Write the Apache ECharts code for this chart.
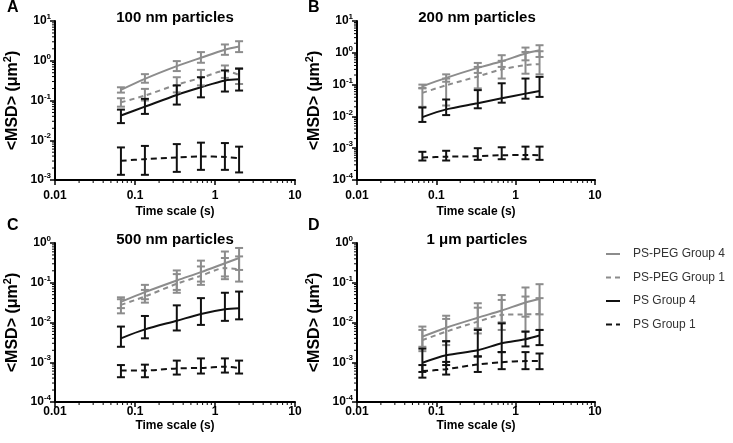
<!DOCTYPE html>
<html><head><meta charset="utf-8">
<script src="https://cdn.jsdelivr.net/npm/echarts@6/dist/echarts.min.js"></script>
<style>html,body{margin:0;padding:0;background:#fff}#c{width:733px;height:443px}</style>
</head><body><div id="c"></div>
<script>
// time points (s)
const times = [0.0667, 0.133, 0.333, 0.667, 1.33, 2.0];
const xTickLabels = ['0.01', '0.1', '1', '10'];
const seriesNames = ['PS-PEG Group 4', 'PS-PEG Group 1', 'PS Group 4', 'PS Group 1'];
const panelTitles = ['100 nm particles', '200 nm particles', '500 nm particles', '1 \u03bcm particles'];
const panelLetters = ['A', 'B', 'C', 'D'];

// Panel A: 100 nm
const a_peg4 = [0.185, 0.35, 0.73, 1.19, 1.9, 2.28];
const a_peg4_lo = [0.158, 0.28, 0.55, 0.89, 1.41, 1.65];
const a_peg4_hi = [0.215, 0.46, 0.98, 1.65, 2.57, 3.1];
const a_peg1 = [0.09, 0.133, 0.25, 0.37, 0.55, 0.44];
const a_peg1_lo = [0.07, 0.1, 0.16, 0.24, 0.37, 0.26];
const a_peg1_hi = [0.114, 0.196, 0.385, 0.59, 0.76, 0.65];
const a_ps4 = [0.042, 0.07, 0.138, 0.215, 0.32, 0.34];
const a_ps4_lo = [0.027, 0.046, 0.079, 0.12, 0.168, 0.178];
const a_ps4_hi = [0.059, 0.11, 0.24, 0.385, 0.57, 0.63];
const a_ps1 = [0.00303, 0.00335, 0.0037, 0.0039, 0.0038, 0.0035];
const a_ps1_lo = [0.00135, 0.00135, 0.0016, 0.0018, 0.0018, 0.00155];
const a_ps1_hi = [0.0066, 0.0072, 0.008, 0.0087, 0.0085, 0.0069];

// Panel B: 200 nm
const b_peg4 = [0.089, 0.163, 0.335, 0.54, 0.95, 1.2];
const b_peg4_lo = [0.079, 0.123, 0.233, 0.36, 0.58, 0.74];
const b_peg4_hi = [0.1, 0.21, 0.48, 0.84, 1.46, 1.73];
const b_peg1 = [0.055, 0.095, 0.18, 0.3, 0.41, 0.44];
const b_peg1_lo = [0.02, 0.022, 0.076, 0.155, 0.22, 0.21];
const b_peg1_hi = [0.076, 0.155, 0.36, 0.56, 1.06, 1.12];
const b_ps4 = [0.0095, 0.0166, 0.026, 0.037, 0.052, 0.063];
const b_ps4_lo = [0.0067, 0.011, 0.018, 0.027, 0.036, 0.041];
const b_ps4_hi = [0.019, 0.034, 0.067, 0.11, 0.155, 0.175];
const b_ps1 = [0.00051, 0.00054, 0.00056, 0.0006, 0.00061, 0.0006];
const b_ps1_lo = [0.00041, 0.00041, 0.00043, 0.00045, 0.00045, 0.00043];
const b_ps1_hi = [0.00077, 0.00083, 0.001, 0.00107, 0.00112, 0.00112];

// Panel C: 500 nm
const c_peg4 = [0.033, 0.058, 0.114, 0.185, 0.31, 0.42];
const c_peg4_lo = [0.023, 0.0385, 0.066, 0.107, 0.144, 0.21];
const c_peg4_hi = [0.043, 0.0885, 0.204, 0.36, 0.61, 0.75];
const c_peg1 = [0.0277, 0.045, 0.094, 0.149, 0.234, 0.22];
const c_peg1_lo = [0.017, 0.0316, 0.056, 0.0885, 0.123, 0.107];
const c_peg1_hi = [0.0385, 0.066, 0.165, 0.257, 0.42, 0.46];
const c_ps4 = [0.004, 0.0067, 0.0111, 0.0164, 0.0215, 0.0229];
const c_ps4_lo = [0.00245, 0.004, 0.0063, 0.0087, 0.011, 0.012];
const c_ps4_hi = [0.0079, 0.0146, 0.027, 0.041, 0.056, 0.06];
const c_ps1 = [0.00062, 0.00062, 0.0007, 0.00072, 0.00077, 0.00072];
const c_ps1_lo = [0.00042, 0.00042, 0.00049, 0.00052, 0.00055, 0.00052];
const c_ps1_hi = [0.00085, 0.00087, 0.0011, 0.00125, 0.00125, 0.0011];

// Panel D: 1 um
const d_peg4 = [0.0044, 0.0074, 0.0132, 0.02, 0.032, 0.039];
const d_peg4_lo = [0.00245, 0.0033, 0.0071, 0.0101, 0.014, 0.016];
const d_peg4_hi = [0.0079, 0.0148, 0.0305, 0.049, 0.076, 0.092];
const d_peg1 = [0.0036, 0.0059, 0.0105, 0.0155, 0.016, 0.0164];
const d_peg1_lo = [0.0019, 0.0027, 0.0053, 0.0065, 0.0059, 0.0065];
const d_peg1_hi = [0.0065, 0.0123, 0.0236, 0.037, 0.045, 0.041];
const d_ps4 = [0.00097, 0.0015, 0.002, 0.003, 0.0038, 0.0047];
const d_ps4_lo = [0.00057, 0.00085, 0.0014, 0.0018, 0.0025, 0.0027];
const d_ps4_hi = [0.0022, 0.0034, 0.0065, 0.0095, 0.0059, 0.0065];
const d_ps1 = [0.0006, 0.00067, 0.00088, 0.001, 0.00107, 0.00107];
const d_ps1_lo = [0.00041, 0.00049, 0.00057, 0.00067, 0.00067, 0.00067];
const d_ps1_hi = [0.00085, 0.00102, 0.0014, 0.0018, 0.0018, 0.00166];

// y-axis ranges
const yMins = [1e-3, 1e-4, 1e-4, 1e-4];
const yMaxs = [10, 10, 1, 1];

const FONT = 'Liberation Sans, Arial, Helvetica, sans-serif';
const GRAY = '#8c8c8c';
const BLACK = '#111111';

const grids = [
  {left: 55, top: 21, width: 240, height: 159},
  {left: 357, top: 21, width: 238, height: 159},
  {left: 55, top: 243, width: 240, height: 159},
  {left: 357, top: 243, width: 238, height: 159}
];
const labelMargins = [10, 10, 4, 4];
const nameGaps = [26, 26, 18, 18];

const panels = [
  [[a_peg4, a_peg4_lo, a_peg4_hi], [a_peg1, a_peg1_lo, a_peg1_hi], [a_ps4, a_ps4_lo, a_ps4_hi], [a_ps1, a_ps1_lo, a_ps1_hi]],
  [[b_peg4, b_peg4_lo, b_peg4_hi], [b_peg1, b_peg1_lo, b_peg1_hi], [b_ps4, b_ps4_lo, b_ps4_hi], [b_ps1, b_ps1_lo, b_ps1_hi]],
  [[c_peg4, c_peg4_lo, c_peg4_hi], [c_peg1, c_peg1_lo, c_peg1_hi], [c_ps4, c_ps4_lo, c_ps4_hi], [c_ps1, c_ps1_lo, c_ps1_hi]],
  [[d_peg4, d_peg4_lo, d_peg4_hi], [d_peg1, d_peg1_lo, d_peg1_hi], [d_ps4, d_ps4_lo, d_ps4_hi], [d_ps1, d_ps1_lo, d_ps1_hi]]
];
const styles = [
  {color: GRAY, type: 'solid'},
  {color: GRAY, type: [5, 4]},
  {color: BLACK, type: 'solid'},
  {color: BLACK, type: [6, 4]}
];

function minorValues(lo, hi) {
  const out = [];
  for (let d = lo; d < hi * 0.999; d *= 10) {
    for (let k = 2; k <= 9; k++) out.push(+(d * k).toPrecision(3));
  }
  return out;
}

const xAxes = [], yAxes = [], series = [], graphics = [];
grids.forEach((g, i) => {
  xAxes.push({
    type: 'log', logBase: 10, gridIndex: i, min: 0.01, max: 10,
    axisLine: {lineStyle: {color: '#000', width: 2}},
    axisTick: {length: 5, lineStyle: {color: '#000', width: 1.5}},
    splitLine: {show: false},
    axisLabel: {
      color: '#000', fontWeight: 'bold', fontSize: 12, fontFamily: FONT, margin: labelMargins[i],
      formatter: v => xTickLabels[Math.round(Math.log10(v)) + 2]
    },
    name: 'Time scale (s)', nameLocation: 'middle', nameGap: nameGaps[i],
    nameTextStyle: {color: '#000', fontWeight: 'bold', fontSize: 12, fontFamily: FONT}
  });
  yAxes.push({
    type: 'log', logBase: 10, gridIndex: i, min: yMins[i], max: yMaxs[i],
    axisLine: {lineStyle: {color: '#000', width: 2}},
    axisTick: {length: 5, lineStyle: {color: '#000', width: 1.5}},
    splitLine: {show: false},
    axisLabel: {
      margin: 4, fontFamily: FONT,
      formatter: v => '{b|10}{s|' + Math.round(Math.log10(v)) + '}',
      rich: {
        b: {fontSize: 12, fontWeight: 'bold', color: '#000', fontFamily: FONT},
        s: {fontSize: 8, fontWeight: 'bold', color: '#000', fontFamily: FONT, padding: [0, 0, 8, 0]}
      }
    },
    name: '{n|<MSD> (\u03bcm}{s|2}{n|)}', nameLocation: 'middle', nameGap: 32, nameRotate: 90,
    nameTextStyle: {
      rich: {
        n: {fontSize: 16, fontWeight: 'bold', color: '#000', fontFamily: FONT},
        s: {fontSize: 11, fontWeight: 'bold', color: '#000', fontFamily: FONT, padding: [0, 0, 10, 0]}
      }
    }
  });

  // minor ticks via the axis scales
  const xMinor = minorValues(0.01, 10).map(v => [v, yMins[i]]);
  const yMinor = minorValues(yMins[i], yMaxs[i]).map(v => [0.01, v]);
  series.push({
    type: 'custom', xAxisIndex: i, yAxisIndex: i, clip: false, silent: true, z: 5,
    data: xMinor,
    renderItem: (p, api) => {
      const pt = api.coord([api.value(0), api.value(1)]);
      return {type: 'line', shape: {x1: pt[0], y1: pt[1], x2: pt[0], y2: pt[1] + 3},
        style: {stroke: '#000', lineWidth: 1}};
    }
  });
  series.push({
    type: 'custom', xAxisIndex: i, yAxisIndex: i, clip: false, silent: true, z: 5,
    data: yMinor,
    renderItem: (p, api) => {
      const pt = api.coord([api.value(0), api.value(1)]);
      return {type: 'line', shape: {x1: pt[0], y1: pt[1], x2: pt[0] - 3, y2: pt[1]},
        style: {stroke: '#000', lineWidth: 1}};
    }
  });

  panels[i].forEach((arrs, k) => {
    const st = styles[k];
    series.push({
      type: 'line', name: seriesNames[k], xAxisIndex: i, yAxisIndex: i,
      data: times.map((t, j) => [t, arrs[0][j]]),
      symbol: 'none', smooth: 0.3, color: st.color,
      lineStyle: {color: st.color, width: 2, type: st.type}, z: 3
    });
    series.push({
      type: 'custom', name: 'err' + i + k, xAxisIndex: i, yAxisIndex: i, z: 4,
      data: times.map((t, j) => [t, arrs[1][j], arrs[2][j]]),
      encode: {x: 0, y: [1, 2]},
      renderItem: (p, api) => {
        const x = api.value(0);
        const top = api.coord([x, api.value(2)]);
        const bot = api.coord([x, api.value(1)]);
        const w = 4;
        const s = {stroke: st.color, lineWidth: 2};
        return {type: 'group', children: [
          {type: 'line', shape: {x1: top[0], y1: top[1], x2: bot[0], y2: bot[1]}, style: s},
          {type: 'line', shape: {x1: top[0] - w, y1: top[1], x2: top[0] + w, y2: top[1]}, style: s},
          {type: 'line', shape: {x1: bot[0] - w, y1: bot[1], x2: bot[0] + w, y2: bot[1]}, style: s}
        ]};
      }
    });
  });

  graphics.push({type: 'text', x: g.left + 120, y: i < 2 ? 18 : 240,
    style: {text: panelTitles[i], font: 'bold 15px ' + FONT, fill: '#000', align: 'center', verticalAlign: 'middle'}});
  graphics.push({type: 'text', x: i % 2 === 0 ? 7 : 308, y: i < 2 ? 8 : 226,
    style: {text: panelLetters[i], font: 'bold 16px ' + FONT, fill: '#000', align: 'left', verticalAlign: 'middle'}});
});

const chart = echarts.init(document.getElementById('c'), null, {renderer: 'canvas'});
chart.setOption({
  animation: false,
  backgroundColor: '#fff',
  grid: grids,
  xAxis: xAxes,
  yAxis: yAxes,
  series: series,
  graphic: graphics,
  legend: {
    data: seriesNames, orient: 'vertical', left: 600, top: 243,
    itemWidth: 14, itemHeight: 14, itemGap: 11.5,
    itemStyle: {color: 'rgba(0,0,0,0)', borderWidth: 0},
    textStyle: {fontSize: 12, color: '#333', fontFamily: FONT, padding: [0, 0, 0, 8]}
  }
});
</script></body></html>
